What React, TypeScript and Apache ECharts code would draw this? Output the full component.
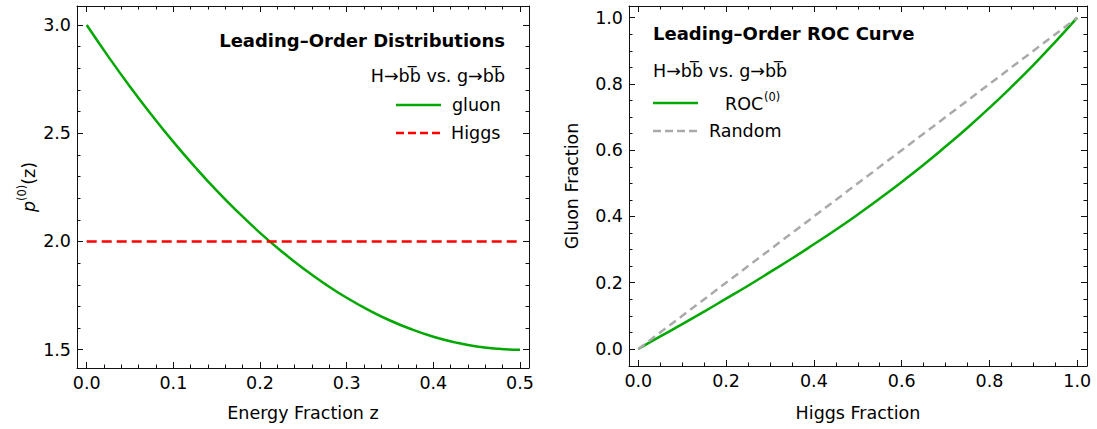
import React, { useEffect, useRef } from "react";
import * as echarts from "echarts";

// ---- Data ----
const energyFraction = [0, 0.025, 0.05, 0.075, 0.1, 0.125, 0.15, 0.175, 0.2, 0.225, 0.25, 0.275, 0.3, 0.325, 0.35, 0.375, 0.4, 0.425, 0.45, 0.475, 0.5];
const gluonDist = [3.0, 2.854, 2.715, 2.584, 2.46, 2.344, 2.235, 2.134, 2.04, 1.954, 1.875, 1.804, 1.74, 1.684, 1.635, 1.594, 1.56, 1.534, 1.515, 1.504, 1.5];
const higgsZ = [0, 0.5];
const higgsDist = [2.0, 2.0];

const higgsFraction = [0, 0.05, 0.1, 0.15, 0.2, 0.25, 0.3, 0.35, 0.4, 0.45, 0.5, 0.55, 0.6, 0.65, 0.7, 0.75, 0.8, 0.85, 0.9, 0.95, 1.0];
const gluonFraction = [0, 0.038, 0.075, 0.113, 0.152, 0.191, 0.232, 0.273, 0.316, 0.36, 0.406, 0.454, 0.504, 0.556, 0.611, 0.668, 0.728, 0.791, 0.857, 0.927, 1.0];
const randomX = [0, 1];
const randomY = [0, 1];

// ---- Tick values ----
const leftXMajor = [0, 0.1, 0.2, 0.3, 0.4, 0.5];
const leftXMinor = [0.02, 0.04, 0.06, 0.08, 0.12, 0.14, 0.16, 0.18, 0.22, 0.24, 0.26, 0.28, 0.32, 0.34, 0.36, 0.38, 0.42, 0.44, 0.46, 0.48];
const leftYMajor = [1.5, 2.0, 2.5, 3.0];
const leftYMinor = [1.6, 1.7, 1.8, 1.9, 2.1, 2.2, 2.3, 2.4, 2.6, 2.7, 2.8, 2.9];
const rightMajor = [0, 0.2, 0.4, 0.6, 0.8, 1.0];
const rightMinor = [0.05, 0.1, 0.15, 0.25, 0.3, 0.35, 0.45, 0.5, 0.55, 0.65, 0.7, 0.75, 0.85, 0.9, 0.95];

const FONT = "DejaVu Sans";
const FRAME = "#111";
const GREEN = "#00a800";
const RED = "#ff0000";
const GRAY = "#aaaaaa";

function mkAxis(
  gridIndex: number,
  position: string,
  min: number,
  max: number,
  ticks: number[],
  len: number,
  showLabel: boolean,
  showLine: boolean
) {
  return {
    type: "value",
    gridIndex,
    position,
    min,
    max,
    axisLine: { show: showLine, onZero: false, lineStyle: { color: FRAME, width: 1 } },
    axisTick: { show: true, inside: true, length: len, customValues: ticks, lineStyle: { color: FRAME, width: 1 } },
    axisLabel: {
      show: showLabel,
      customValues: ticks,
      formatter: (v: number) => v.toFixed(1),
      fontFamily: FONT,
      fontSize: 17.5,
      color: "#000",
      margin: 6,
    },
    splitLine: { show: false },
    minorTick: { show: false },
  };
}

export default function App() {
  const ref = useRef<HTMLDivElement>(null);
  useEffect(() => {
    if (!ref.current) return;
    const chart = echarts.init(ref.current, null, { renderer: "svg" });
    const L = { xmin: -0.0112, xmax: 0.5104, ymin: 1.4155, ymax: 3.0878 };
    const R = { xmin: -0.0212, xmax: 1.0222, ymin: -0.0513, ymax: 1.0353 };
    const txt = (extra: any) => ({ fontFamily: FONT, fill: "#000", ...extra });
    chart.setOption({
      animation: false,
      grid: [
        { left: 77, top: 6, width: 452, height: 362 },
        { left: 629, top: 6, width: 458, height: 360 },
      ],
      xAxis: [
        mkAxis(0, "bottom", L.xmin, L.xmax, leftXMajor, 6, true, true),
        mkAxis(0, "bottom", L.xmin, L.xmax, leftXMinor, 3.5, false, false),
        mkAxis(0, "top", L.xmin, L.xmax, leftXMajor, 6, false, true),
        mkAxis(0, "top", L.xmin, L.xmax, leftXMinor, 3.5, false, false),
        mkAxis(1, "bottom", R.xmin, R.xmax, rightMajor, 6, true, true),
        mkAxis(1, "bottom", R.xmin, R.xmax, rightMinor, 3.5, false, false),
        mkAxis(1, "top", R.xmin, R.xmax, rightMajor, 6, false, true),
        mkAxis(1, "top", R.xmin, R.xmax, rightMinor, 3.5, false, false),
      ],
      yAxis: [
        mkAxis(0, "left", L.ymin, L.ymax, leftYMajor, 6, true, true),
        mkAxis(0, "left", L.ymin, L.ymax, leftYMinor, 3.5, false, false),
        mkAxis(0, "right", L.ymin, L.ymax, leftYMajor, 6, false, true),
        mkAxis(0, "right", L.ymin, L.ymax, leftYMinor, 3.5, false, false),
        mkAxis(1, "left", R.ymin, R.ymax, rightMajor, 6, true, true),
        mkAxis(1, "left", R.ymin, R.ymax, rightMinor, 3.5, false, false),
        mkAxis(1, "right", R.ymin, R.ymax, rightMajor, 6, false, true),
        mkAxis(1, "right", R.ymin, R.ymax, rightMinor, 3.5, false, false),
      ],
      series: [
        {
          name: "gluon",
          type: "line",
          xAxisIndex: 0,
          yAxisIndex: 0,
          data: energyFraction.map((z, i) => [z, gluonDist[i]]),
          smooth: true,
          symbol: "none",
          lineStyle: { color: GREEN, width: 2.5 },
        },
        {
          name: "Higgs",
          type: "line",
          xAxisIndex: 0,
          yAxisIndex: 0,
          data: higgsZ.map((z, i) => [z, higgsDist[i]]),
          symbol: "none",
          lineStyle: { color: RED, width: 2.5, type: [10, 5] },
        },
        {
          name: "ROC",
          type: "line",
          xAxisIndex: 4,
          yAxisIndex: 4,
          data: higgsFraction.map((x, i) => [x, gluonFraction[i]]),
          smooth: true,
          symbol: "none",
          lineStyle: { color: GREEN, width: 2.5 },
        },
        {
          name: "Random",
          type: "line",
          xAxisIndex: 4,
          yAxisIndex: 4,
          data: randomX.map((x, i) => [x, randomY[i]]),
          symbol: "none",
          lineStyle: { color: GRAY, width: 2.5, type: [8, 5] },
        },
      ],
      graphic: [
        // Left panel annotations
        { type: "text", x: 505, y: 40, style: txt({ text: "Leading\u2013Order Distributions", fontSize: 18, fontWeight: "bold", align: "right", verticalAlign: "middle" }) },
        { type: "text", x: 505, y: 76, style: txt({ text: "H\u2192bb\u0305 vs. g\u2192bb\u0305", fontSize: 17.5, align: "right", verticalAlign: "middle" }) },
        { type: "line", shape: { x1: 396, y1: 105, x2: 441, y2: 105 }, style: { stroke: GREEN, lineWidth: 2.5 } },
        { type: "text", x: 452, y: 105, style: txt({ text: "gluon", fontSize: 17.5, align: "left", verticalAlign: "middle" }) },
        { type: "line", shape: { x1: 396, y1: 133, x2: 441, y2: 133 }, style: { stroke: RED, lineWidth: 2.5, lineDash: [8, 4] } },
        { type: "text", x: 451, y: 133, style: txt({ text: "Higgs", fontSize: 17.5, align: "left", verticalAlign: "middle" }) },
        // Right panel annotations
        { type: "text", x: 653, y: 33, style: txt({ text: "Leading\u2013Order ROC Curve", fontSize: 18, fontWeight: "bold", align: "left", verticalAlign: "middle" }) },
        { type: "text", x: 653, y: 71, style: txt({ text: "H\u2192bb\u0305 vs. g\u2192bb\u0305", fontSize: 17.5, align: "left", verticalAlign: "middle" }) },
        { type: "line", shape: { x1: 653, y1: 103, x2: 698, y2: 103 }, style: { stroke: GREEN, lineWidth: 2.5 } },
        { type: "text", x: 725, y: 104, style: txt({ text: "ROC", fontSize: 17.5, align: "left", verticalAlign: "middle" }) },
        { type: "text", x: 764, y: 97, style: txt({ text: "(0)", fontSize: 11.5, align: "left", verticalAlign: "middle" }) },
        { type: "line", shape: { x1: 653, y1: 131, x2: 698, y2: 131 }, style: { stroke: GRAY, lineWidth: 2.5, lineDash: [8, 4] } },
        { type: "text", x: 709, y: 131, style: txt({ text: "Random", fontSize: 17.5, align: "left", verticalAlign: "middle" }) },
        // Axis titles
        { type: "text", x: 303, y: 413, style: txt({ text: "Energy Fraction z", fontSize: 17.5, align: "center", verticalAlign: "middle" }) },
        { type: "text", x: 858, y: 413, style: txt({ text: "Higgs Fraction", fontSize: 17.5, align: "center", verticalAlign: "middle" }) },
        { type: "text", x: 572, y: 186, rotation: Math.PI / 2, style: txt({ text: "Gluon Fraction", fontSize: 17.5, align: "center", verticalAlign: "middle" }) },
        {
          type: "text",
          x: 27,
          y: 187,
          rotation: Math.PI / 2,
          style: txt({
            text: "{i|p}{s|(0)}{n|(z)}",
            align: "center",
            verticalAlign: "middle",
            rich: {
              i: { fontFamily: FONT, fontSize: 17.5, fontStyle: "italic", lineHeight: 22, verticalAlign: "bottom" },
              s: { fontFamily: FONT, fontSize: 11.5, lineHeight: 22, verticalAlign: "top" },
              n: { fontFamily: FONT, fontSize: 17.5, lineHeight: 22, verticalAlign: "bottom" },
            },
          }),
        },
      ],
    });
    return () => chart.dispose();
  }, []);
  return <div ref={ref} style={{ position: "absolute", left: 0, top: 0, width: 1097, height: 429 }} />;
}
